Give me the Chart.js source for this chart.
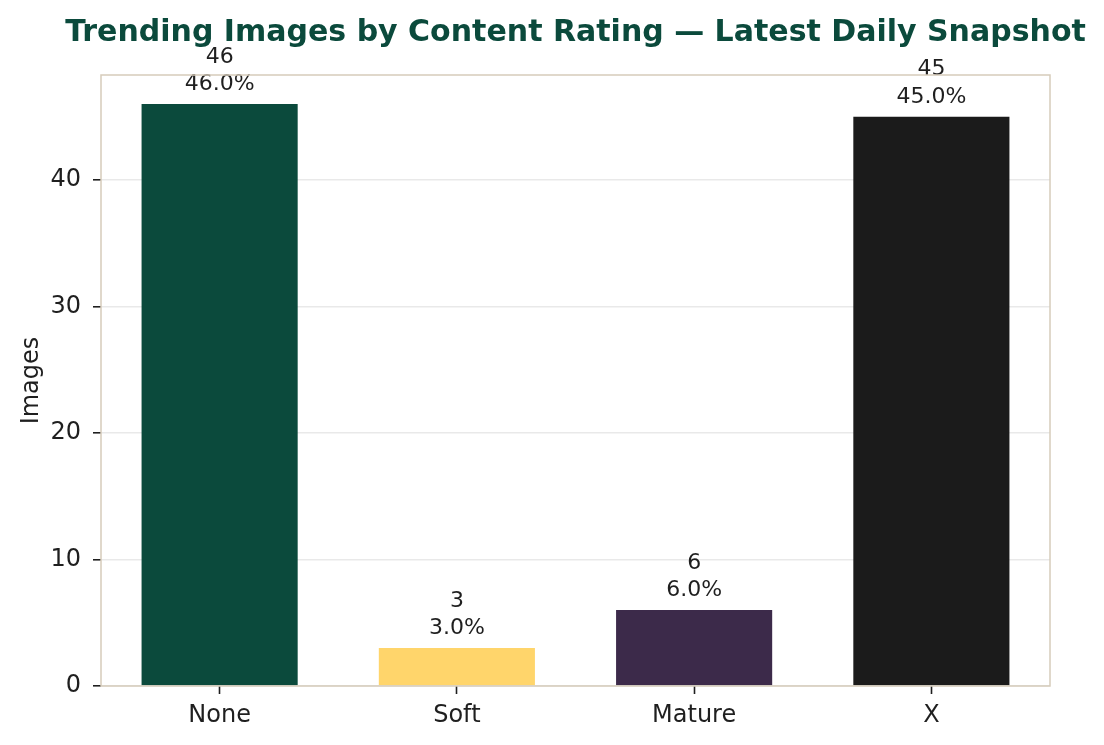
<!DOCTYPE html>
<html>
<head>
<meta charset="utf-8">
<title>Trending Images by Content Rating</title>
<script src="https://cdn.jsdelivr.net/npm/chart.js@4.4.0/dist/chart.umd.min.js"></script>
<style>
    html, body { margin: 0; padding: 0; background: #ffffff; }
    #wrap { width: 1104px; height: 745px; }
</style>
</head>
<body>
<div id="wrap"><canvas id="ratingChart" width="1104" height="745"></canvas></div>
<script>
    'use strict';

    var ratings = ['None', 'Soft', 'Mature', 'X'];
    var imageCounts = [46, 3, 6, 45];
    var barColors = ['#0b4a3c', '#ffd56b', '#3c2a4a', '#1b1b1b'];
    var yTickValues = [0, 10, 20, 30, 40];
    var chartTitle = 'Trending Images by Content Rating \u2014 Latest Daily Snapshot';

    var textColor = '#1f1f1f';
    var titleColor = '#0b4a3c';
    var frameColor = '#d6ccbb';

    Chart.defaults.font.family = '"DejaVu Sans", sans-serif';
    Chart.defaults.color = textColor;

    var totalImages = imageCounts.reduce(function (a, b) { return a + b; }, 0);

    // title centred over the plot (the built-in one squeezes it to the plot width),
    // count + share above each bar, and the beige frame round the plot
    var barLabels = {
        id: 'barLabels',
        afterDraw: function (chart) {
            var ctx = chart.ctx;
            var area = chart.chartArea;
            var meta = chart.getDatasetMeta(0);

            ctx.save();
            ctx.font = 'bold 30px "DejaVu Sans"';
            ctx.fillStyle = titleColor;
            ctx.textAlign = 'center';
            ctx.textBaseline = 'alphabetic';
            ctx.fillText(chartTitle, (area.left + area.right) / 2, 41);

            ctx.font = '22px "DejaVu Sans"';
            ctx.fillStyle = textColor;
            meta.data.forEach(function (bar, i) {
                var pct = (imageCounts[i] / totalImages * 100).toFixed(1) + '%';
                ctx.fillText(pct, bar.x, bar.y - 14);
                ctx.fillText(String(imageCounts[i]), bar.x, bar.y - 41.5);
            });

            ctx.strokeStyle = frameColor;
            ctx.lineWidth = 1.5;
            ctx.strokeRect(area.left, area.top, area.right - area.left, area.bottom - area.top);
            ctx.restore();
        }
    };

    var ctx = document.getElementById('ratingChart').getContext('2d');
    new Chart(ctx, {
        type: 'bar',
        data: {
            labels: ratings,
            datasets: [{
                label: 'Images',
                data: imageCounts,
                backgroundColor: barColors,
                borderWidth: 0,
                barPercentage: 0.658,
                categoryPercentage: 1.0
            }]
        },
        options: {
            responsive: false,
            devicePixelRatio: 1,
            animation: false,
            layout: { padding: { left: 0, right: 54, top: 75, bottom: 0 } },
            plugins: {
                legend: { display: false },
                tooltip: { enabled: false },
                title: { display: false }
            },
            scales: {
                x: {
                    grid: {
                        offset: false,
                        drawOnChartArea: false,
                        drawTicks: true,
                        tickLength: 8,
                        tickColor: textColor,
                        tickWidth: 1.6
                    },
                    border: { display: false },
                    ticks: {
                        color: textColor,
                        font: { size: 24 },
                        padding: 7,
                        maxRotation: 0
                    },
                    afterFit: function (scale) { scale.height = 59; }
                },
                y: {
                    min: 0,
                    max: Math.max.apply(null, imageCounts) * 1.05,
                    z: 1,
                    grid: {
                        color: 'rgba(176,176,176,0.28)',
                        lineWidth: 1.6,
                        drawTicks: true,
                        tickLength: 8,
                        tickColor: textColor,
                        tickWidth: 1.6
                    },
                    border: { display: false },
                    afterBuildTicks: function (scale) {
                        scale.ticks = yTickValues.map(function (v) { return { value: v }; });
                    },
                    ticks: {
                        color: textColor,
                        font: { size: 24 },
                        padding: 12
                    },
                    title: {
                        display: true,
                        text: 'Images',
                        color: textColor,
                        font: { size: 24 },
                        padding: { top: 17, bottom: 0 }
                    },
                    afterFit: function (scale) { scale.width = 101; }
                }
            }
        },
        plugins: [barLabels]
    });
</script>
</body>
</html>
